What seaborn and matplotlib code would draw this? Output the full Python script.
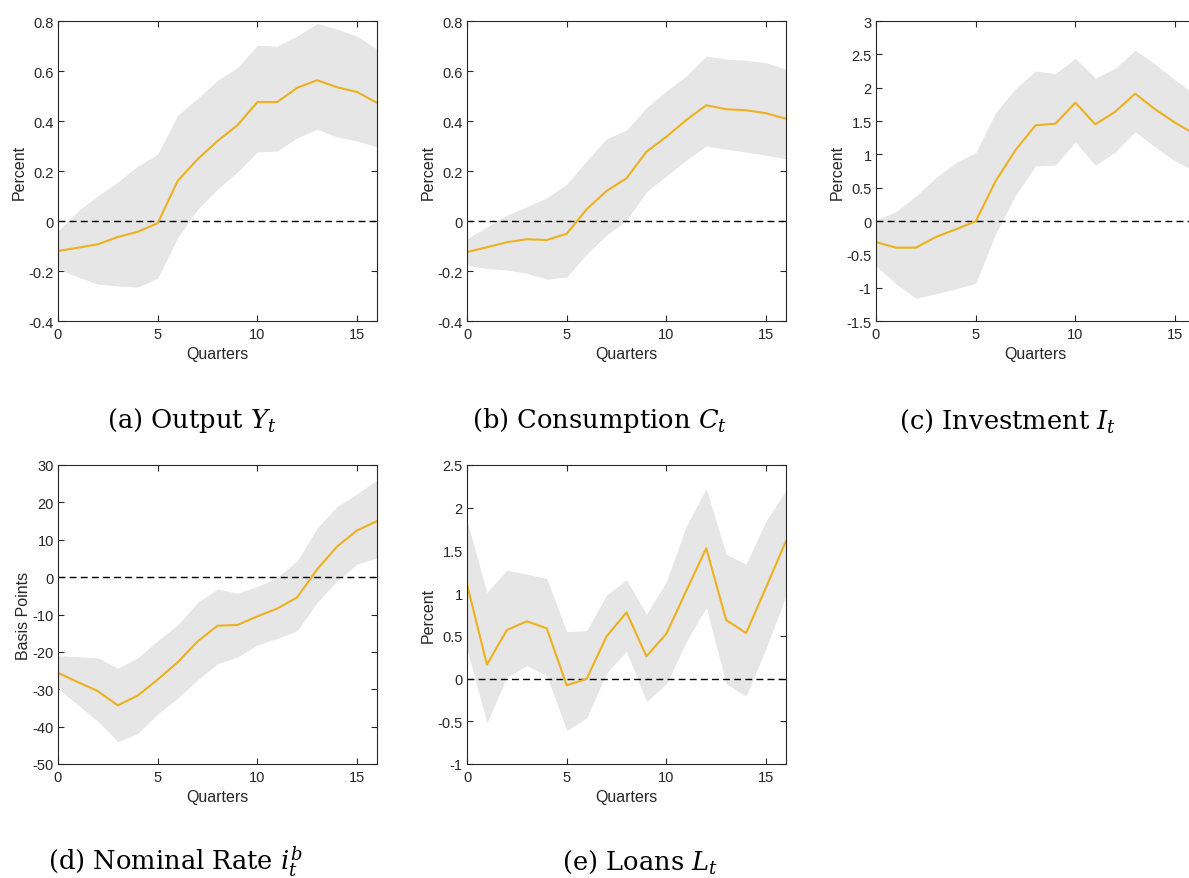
import numpy as np
import pandas as pd
import matplotlib
matplotlib.use("Agg")
import matplotlib.pyplot as plt
import seaborn as sns

# Impulse responses: posterior median and 68% credible band, quarters 0..16
quarters = list(range(17))

output_med = [-0.12, -0.107, -0.093, -0.064, -0.043, -0.009, 0.16, 0.247, 0.32, 0.383,
              0.476, 0.476, 0.533, 0.563, 0.535, 0.516, 0.473]
output_hi = [-0.04, 0.04, 0.10, 0.156, 0.22, 0.267, 0.423, 0.49, 0.563, 0.613,
             0.703, 0.699, 0.74, 0.79, 0.767, 0.74, 0.687]
output_lo = [-0.19, -0.224, -0.253, -0.26, -0.264, -0.229, -0.067, 0.047, 0.127, 0.196,
             0.276, 0.28, 0.333, 0.367, 0.336, 0.32, 0.296]

cons_med = [-0.124, -0.105, -0.085, -0.073, -0.076, -0.051, 0.047, 0.12, 0.171, 0.277,
            0.337, 0.404, 0.463, 0.447, 0.443, 0.431, 0.409]
cons_hi = [-0.071, -0.024, 0.023, 0.057, 0.093, 0.147, 0.24, 0.329, 0.363, 0.453,
           0.52, 0.58, 0.66, 0.647, 0.643, 0.633, 0.607]
cons_lo = [-0.176, -0.19, -0.196, -0.209, -0.233, -0.224, -0.133, -0.056, 0.003, 0.117,
           0.18, 0.244, 0.30, 0.287, 0.276, 0.263, 0.249]

inv_med = [-0.315, -0.40, -0.40, -0.24, -0.125, -0.005, 0.60, 1.065, 1.435, 1.46,
           1.775, 1.45, 1.64, 1.91, 1.675, 1.475, 1.30]
inv_hi = [0.015, 0.14, 0.375, 0.65, 0.875, 1.025, 1.625, 1.985, 2.25, 2.21,
          2.44, 2.145, 2.29, 2.565, 2.35, 2.115, 1.90]
inv_lo = [-0.675, -0.94, -1.16, -1.09, -1.015, -0.935, -0.19, 0.385, 0.825, 0.84,
          1.185, 0.835, 1.035, 1.34, 1.11, 0.90, 0.75]

rate_med = [-25.6, -28.1, -30.5, -34.3, -31.7, -27.4, -22.8, -17.2, -13.0, -12.8,
            -10.5, -8.4, -5.4, 2.1, 8.2, 12.5, 15.0]
rate_hi = [-21.0, -21.3, -21.6, -24.4, -21.6, -17.0, -12.8, -6.8, -3.2, -4.3,
           -2.5, -0.1, 4.4, 13.1, 18.9, 22.3, 26.0]
rate_lo = [-29.7, -34.2, -38.6, -44.0, -41.9, -36.6, -32.4, -27.5, -23.2, -21.4,
           -18.1, -16.4, -14.3, -6.8, -1.0, 3.5, 5.2]

loans_med = [1.105, 0.163, 0.568, 0.67, 0.588, -0.078, -0.004, 0.494, 0.775, 0.261,
             0.525, 1.028, 1.526, 0.685, 0.533, 1.067, 1.611]
loans_hi = [1.845, 1.008, 1.269, 1.222, 1.172, 0.549, 0.561, 0.977, 1.156, 0.755,
            1.133, 1.787, 2.223, 1.456, 1.339, 1.845, 2.207]
loans_lo = [0.346, -0.518, 0.016, 0.152, 0.035, -0.607, -0.463, 0.066, 0.319, -0.269,
            -0.062, 0.432, 0.833, -0.062, -0.206, 0.354, 0.969]

captions = [r"(a) Output $Y_t$", r"(b) Consumption $C_t$", r"(c) Investment $I_t$",
            r"(d) Nominal Rate $i_t^b$", r"(e) Loans $L_t$"]
ylabels = ["Percent", "Percent", "Percent", "Basis Points", "Percent"]
ylims = [(-0.4, 0.8), (-0.4, 0.8), (-1.5, 3.0), (-50, 30), (-1.0, 2.5)]
yticks = [np.arange(-0.4, 0.81, 0.2), np.arange(-0.4, 0.81, 0.2), np.arange(-1.5, 3.01, 0.5),
          np.arange(-50, 31, 10), np.arange(-1.0, 2.51, 0.5)]

sns.set_theme(style="white")
plt.rcParams["font.family"] = ["Liberation Sans", "DejaVu Sans"]
plt.rcParams["mathtext.fontset"] = "dejavuserif"

W, H = 1189, 879
fig = plt.figure(figsize=(W / 100, H / 100), dpi=100)

# axes boxes in pixels: left, top, right, bottom
boxes = [(58, 22, 377, 322), (467, 22, 786, 322), (876, 22, 1195, 322),
         (58, 466, 377, 765), (467, 466, 786, 765)]
caption_pos = [(192, 421), (600, 421), (1008, 421), (175, 862), (640, 862)]

series = [(output_med, output_lo, output_hi), (cons_med, cons_lo, cons_hi),
          (inv_med, inv_lo, inv_hi), (rate_med, rate_lo, rate_hi),
          (loans_med, loans_lo, loans_hi)]

edge = "#262626"
for i, (med, lo, hi) in enumerate(series):
    l, t, r, b = boxes[i]
    ax = fig.add_axes([l / W, 1 - b / H, (r - l) / W, (b - t) / H])
    ax.fill_between(quarters, lo, hi, color="#e6e6e6", linewidth=0)
    ax.axhline(0, color="black", linestyle=(0, (5, 3)), linewidth=1.0)
    df = pd.DataFrame({"q": quarters, "v": med})
    sns.lineplot(data=df, x="q", y="v", ax=ax, color="#edb120", linewidth=1.5)
    ax.set_xlim(0, 16)
    ax.set_ylim(*ylims[i])
    ax.set_xticks([0, 5, 10, 15])
    ax.set_yticks(yticks[i])
    ax.set_yticklabels([f"{v:g}" for v in np.round(yticks[i], 2)])
    ax.tick_params(direction="in", length=4, width=0.8, colors=edge, labelsize=10.5,
                   top=True, right=True, bottom=True, left=True)
    ax.tick_params(axis="x", pad=4)
    ax.tick_params(axis="y", pad=3)
    for s in ax.spines.values():
        s.set_color(edge)
        s.set_linewidth(0.8)
    ax.set_ylabel(ylabels[i], fontsize=11.5, color=edge, labelpad=1)
    ax.set_xlabel("Quarters", fontsize=11.5, color=edge, labelpad=4)
    cx, cy = caption_pos[i]
    fig.text(cx / W, 1 - cy / H, captions[i], ha="center", va="center",
             fontsize=18.5, family="DejaVu Serif", color="black")

fig.savefig("out.png", dpi=100)
